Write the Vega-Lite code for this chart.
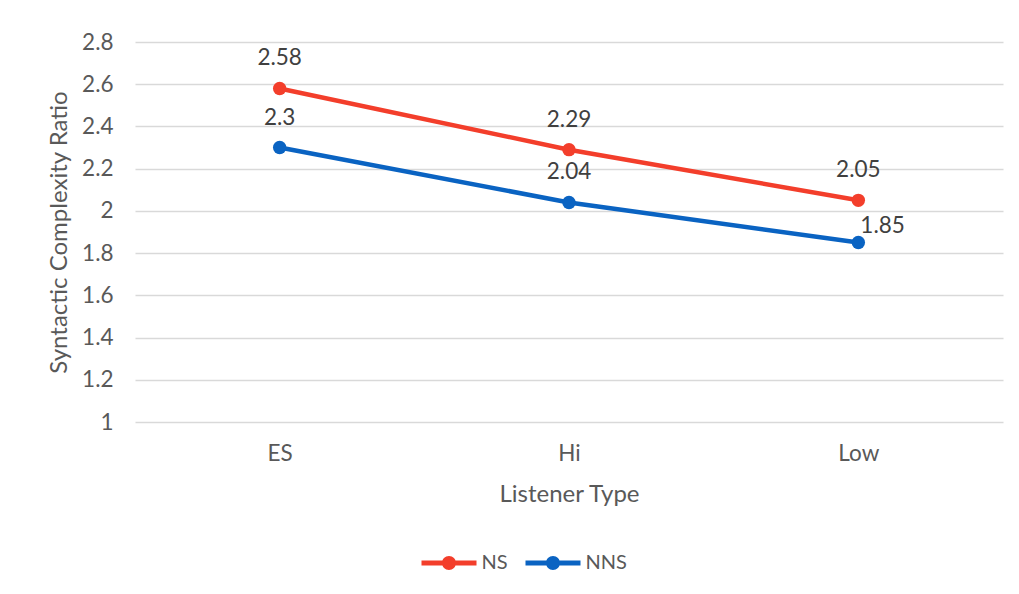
{
  "$schema": "https://vega.github.io/schema/vega-lite/v6.json",
  "autosize": {"type": "none"},
  "width": 868,
  "height": 380,
  "padding": {"left": 135, "top": 42, "right": 16, "bottom": 172},
  "background": "white",
  "config": {
    "view": {"stroke": null},
    "font": "Lato",
    "axis": {"labelFont": "Lato", "titleFont": "Lato", "labelColor": "#595959", "titleColor": "#595959", "titleFontWeight": "normal"},
    "legend": {"labelFont": "Lato"}
  },
  "data": {
    "values": [
      {"type": "ES", "series": "NS", "value": 2.58},
      {"type": "Hi", "series": "NS", "value": 2.29},
      {"type": "Low", "series": "NS", "value": 2.05},
      {"type": "ES", "series": "NNS", "value": 2.3},
      {"type": "Hi", "series": "NNS", "value": 2.04},
      {"type": "Low", "series": "NNS", "value": 1.85}
    ]
  },
  "encoding": {
    "x": {
      "field": "type", "type": "nominal",
      "scale": {"type": "point", "padding": 0.5, "domain": ["ES", "Hi", "Low"]},
      "axis": {
        "title": "Listener Type", "titleFontSize": 24, "titlePadding": 18,
        "labelFontSize": 22.5, "labelAngle": 0, "labelPadding": 20,
        "ticks": false, "domain": false, "grid": false
      }
    },
    "y": {
      "field": "value", "type": "quantitative",
      "scale": {"domain": [1, 2.8], "nice": false, "zero": false},
      "axis": {
        "title": "Syntactic Complexity Ratio", "titleFontSize": 24, "titlePadding": 10,
        "labelFontSize": 22.5, "labelPadding": 22, "format": ".1~f",
        "values": [1, 1.2, 1.4, 1.6, 1.8, 2, 2.2, 2.4, 2.6, 2.8],
        "ticks": false, "domain": false, "grid": true,
        "gridColor": "#d9d9d9", "gridWidth": 1.5
      }
    },
    "color": {
      "field": "series", "type": "nominal",
      "scale": {"domain": ["NS", "NNS"], "range": ["#F33E2B", "#0A63C2"]},
      "legend": {
        "title": null, "orient": "none", "direction": "horizontal",
        "legendX": 304, "legendY": 511, "padding": 0,
        "symbolType": "M -2.75 -0.25 L -0.66 -0.25 L -0.66 0.25 L -2.75 0.25 Z M 0.66 -0.25 L 2.75 -0.25 L 2.75 0.25 L 0.66 0.25 Z M -0.7 0 A 0.7 0.7 0 1 1 0.7 0 A 0.7 0.7 0 1 1 -0.7 0 Z",
        "symbolSize": 400, "symbolStrokeWidth": 0,
        "labelFontSize": 20, "labelColor": "#595959", "labelOffset": 22.5,
        "columnPadding": 17,
        "encode": {"symbols": {"update": {"fill": {"scale": "color", "field": "value"}, "stroke": {"value": "transparent"}, "opacity": {"value": 1}}}}
      }
    }
  },
  "layer": [
    {"mark": {"type": "line", "strokeWidth": 4.5}},
    {"mark": {"type": "point", "filled": true, "size": 180, "opacity": 1}},
    {
      "transform": [{"filter": "!(datum.type == 'Low' && datum.series == 'NNS')"}],
      "mark": {"type": "text", "fontSize": 22.5, "dy": -23, "baseline": "alphabetic", "align": "center", "color": "#404040"},
      "encoding": {"text": {"field": "value", "type": "quantitative", "format": ".2~f"}, "color": {"value": "#404040"}}
    },
    {
      "transform": [{"filter": "datum.type == 'Low' && datum.series == 'NNS'"}],
      "mark": {"type": "text", "fontSize": 22.5, "dy": -10, "dx": 2, "baseline": "alphabetic", "align": "left", "color": "#404040"},
      "encoding": {"text": {"field": "value", "type": "quantitative", "format": ".2~f"}, "color": {"value": "#404040"}}
    }
  ]
}
